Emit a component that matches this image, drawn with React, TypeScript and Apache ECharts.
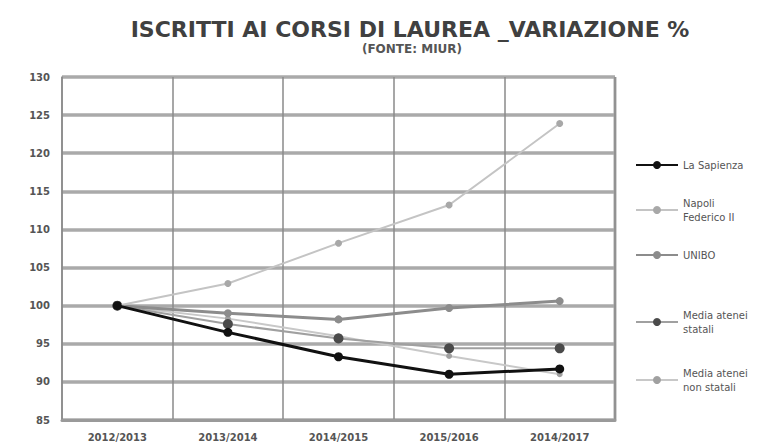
import React, { useEffect, useRef } from "react";
import * as echarts from "echarts";

const categories = ["2012/2013", "2013/2014", "2014/2015", "2015/2016", "2014/2017"];
const laSapienza = [100, 96.5, 93.3, 91.0, 91.7];
const napoli = [100, 102.9, 108.2, 113.2, 123.9];
const unibo = [100, 99.0, 98.2, 99.7, 100.6];
const mediaStatali = [100, 97.6, 95.7, 94.4, 94.4];
const mediaNonStatali = [100, 98.3, 96.0, 93.4, 91.0];

const seriesNames = ["La Sapienza", "Napoli\nFederico II", "UNIBO", "Media atenei\nstatali", "Media atenei\nnon statali"];
const legendTops = [153, 191, 243, 303, 361];

export default function App() {
  const ref = useRef<HTMLDivElement>(null);
  useEffect(() => {
    const chart = echarts.init(ref.current!, null, { renderer: "svg" });
    const styles = [
      { line: "#111111", width: 3, marker: "#111111", size: 9 },
      { line: "#c4c4c4", width: 2, marker: "#a8a8a8", size: 7 },
      { line: "#8c8c8c", width: 3, marker: "#8c8c8c", size: 8 },
      { line: "#a0a0a0", width: 2, marker: "#4a4a4a", size: 10 },
      { line: "#c8c8c8", width: 2, marker: "#a0a0a0", size: 6 },
    ];
    const datas = [laSapienza, napoli, unibo, mediaStatali, mediaNonStatali];
    chart.setOption({
      animation: false,
      backgroundColor: "#ffffff",
      title: [
        {
          text: "ISCRITTI AI CORSI DI LAUREA _VARIAZIONE %",
          left: 410,
          textAlign: "center",
          top: 18,
          padding: 0,
          textStyle: { fontFamily: "DejaVu Sans", fontWeight: "bold", fontSize: 22, lineHeight: 22, color: "#404040" },
        },
        {
          text: "(FONTE: MIUR)",
          left: 412,
          textAlign: "center",
          top: 42,
          padding: 0,
          textStyle: { fontFamily: "DejaVu Sans", fontWeight: "bold", fontSize: 12, lineHeight: 13, color: "#555555" },
        },
      ],
      legend: seriesNames.map((n, i) => ({
        data: [n],
        orient: "vertical",
        left: 630,
        top: legendTops[i],
        itemWidth: 42,
        itemHeight: 10,
        textStyle: { fontFamily: "DejaVu Sans", fontSize: 10, color: "#555555", lineHeight: 14 },
      })),
      grid: { left: 62, right: 161, top: 77, bottom: 24, containLabel: false },
      xAxis: {
        type: "category",
        data: categories,
        boundaryGap: true,
        axisLine: { show: true, lineStyle: { color: "#9a9a9a", width: 3 } },
        axisTick: { show: false },
        splitLine: { show: true, lineStyle: { color: "#8a8a8a", width: 1.5 } },
        axisLabel: { fontFamily: "DejaVu Sans", fontWeight: "bold", fontSize: 10, color: "#555555", margin: 12 },
      },
      yAxis: {
        type: "value",
        min: 85,
        max: 130,
        interval: 5,
        axisLine: { show: true, lineStyle: { color: "#8a8a8a", width: 1.5 } },
        axisTick: { show: false },
        splitLine: { show: true, lineStyle: { color: "#aaaaaa", width: 3.5 } },
        axisLabel: { fontFamily: "DejaVu Sans", fontWeight: "bold", fontSize: 10, color: "#555555", margin: 12 },
      },
      graphic: [
        { type: "line", shape: { x1: 615, y1: 77, x2: 615, y2: 420 }, style: { stroke: "#aaaaaa", lineWidth: 3 } },
      ],
      series: seriesNames.map((n, i) => ({
        name: n,
        type: "line",
        data: datas[i],
        symbol: "circle",
        symbolSize: styles[i].size,
        lineStyle: { color: styles[i].line, width: styles[i].width },
        itemStyle: { color: styles[i].marker },
        z: 10 - i,
      })),
    });
    return () => chart.dispose();
  }, []);
  return <div ref={ref} style={{ width: 776, height: 444, position: "absolute", left: 0, top: 0 }} />;
}
